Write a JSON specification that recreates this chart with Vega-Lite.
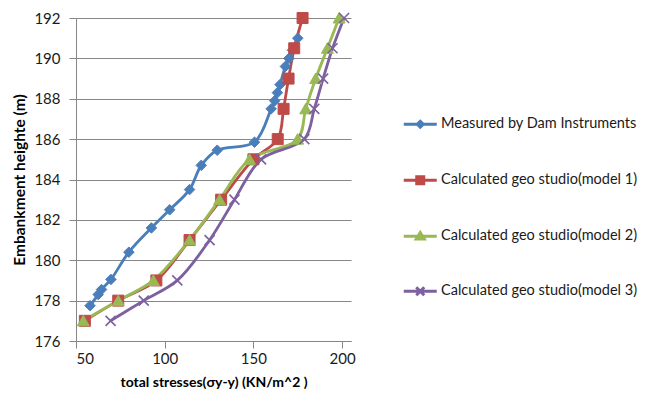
{
  "$schema": "https://vega.github.io/schema/vega-lite/v6.json",
  "width": 275,
  "height": 323,
  "padding": {"left": 76, "top": 18, "right": 297, "bottom": 62},
  "autosize": "none",
  "background": "white",
  "config": {
    "view": {"stroke": null},
    "font": "Lato",
    "axis": {
      "labelFont": "Lato",
      "labelFontSize": 15,
      "labelColor": "#1a1a1a",
      "titleFont": "Lato",
      "titleFontSize": 14,
      "titleFontWeight": "bold",
      "titleColor": "#000000",
      "domainColor": "#868686",
      "tickColor": "#868686",
      "gridColor": "#878787",
      "gridWidth": 1,
      "tickSize": 7
    },
    "legend": {"labelFont": "Lato", "labelFontSize": 14.5, "labelColor": "#1a1a1a", "labelLimit": 400, "symbolOpacity": 1, "symbolStrokeWidth": 3}
  },
  "data": {
    "values": [
      {"series": "Measured by Dam Instruments", "stress": 57.9, "height": 177.75},
      {"series": "Measured by Dam Instruments", "stress": 62.5, "height": 178.3},
      {"series": "Measured by Dam Instruments", "stress": 64.4, "height": 178.55},
      {"series": "Measured by Dam Instruments", "stress": 69.7, "height": 179.05},
      {"series": "Measured by Dam Instruments", "stress": 79.8, "height": 180.4},
      {"series": "Measured by Dam Instruments", "stress": 92.5, "height": 181.6},
      {"series": "Measured by Dam Instruments", "stress": 102.8, "height": 182.5},
      {"series": "Measured by Dam Instruments", "stress": 114, "height": 183.5},
      {"series": "Measured by Dam Instruments", "stress": 120.6, "height": 184.7},
      {"series": "Measured by Dam Instruments", "stress": 129.6, "height": 185.45},
      {"series": "Measured by Dam Instruments", "stress": 150.6, "height": 185.85},
      {"series": "Measured by Dam Instruments", "stress": 160, "height": 187.5},
      {"series": "Measured by Dam Instruments", "stress": 162, "height": 187.9},
      {"series": "Measured by Dam Instruments", "stress": 163.5, "height": 188.3},
      {"series": "Measured by Dam Instruments", "stress": 165, "height": 188.7},
      {"series": "Measured by Dam Instruments", "stress": 168, "height": 189.6},
      {"series": "Measured by Dam Instruments", "stress": 170, "height": 190.0},
      {"series": "Measured by Dam Instruments", "stress": 172, "height": 190.4},
      {"series": "Measured by Dam Instruments", "stress": 175, "height": 191.0},
      {"series": "Calculated geo studio(model 1)", "stress": 55, "height": 177},
      {"series": "Calculated geo studio(model 1)", "stress": 73.8, "height": 178},
      {"series": "Calculated geo studio(model 1)", "stress": 95.3, "height": 179},
      {"series": "Calculated geo studio(model 1)", "stress": 114, "height": 181},
      {"series": "Calculated geo studio(model 1)", "stress": 131.8, "height": 183},
      {"series": "Calculated geo studio(model 1)", "stress": 150, "height": 185},
      {"series": "Calculated geo studio(model 1)", "stress": 163.7, "height": 186},
      {"series": "Calculated geo studio(model 1)", "stress": 167, "height": 187.5},
      {"series": "Calculated geo studio(model 1)", "stress": 169.8, "height": 189},
      {"series": "Calculated geo studio(model 1)", "stress": 173, "height": 190.5},
      {"series": "Calculated geo studio(model 1)", "stress": 177.7, "height": 192},
      {"series": "Calculated geo studio(model 2)", "stress": 54.1, "height": 177},
      {"series": "Calculated geo studio(model 2)", "stress": 73.8, "height": 178},
      {"series": "Calculated geo studio(model 2)", "stress": 93.6, "height": 179},
      {"series": "Calculated geo studio(model 2)", "stress": 114, "height": 181},
      {"series": "Calculated geo studio(model 2)", "stress": 130.9, "height": 183},
      {"series": "Calculated geo studio(model 2)", "stress": 147.8, "height": 185},
      {"series": "Calculated geo studio(model 2)", "stress": 174.9, "height": 186},
      {"series": "Calculated geo studio(model 2)", "stress": 179.5, "height": 187.5},
      {"series": "Calculated geo studio(model 2)", "stress": 185.1, "height": 189},
      {"series": "Calculated geo studio(model 2)", "stress": 191.7, "height": 190.5},
      {"series": "Calculated geo studio(model 2)", "stress": 198.3, "height": 192},
      {"series": "Calculated geo studio(model 3)", "stress": 69.5, "height": 177},
      {"series": "Calculated geo studio(model 3)", "stress": 88.2, "height": 178},
      {"series": "Calculated geo studio(model 3)", "stress": 107.1, "height": 179},
      {"series": "Calculated geo studio(model 3)", "stress": 125.3, "height": 181},
      {"series": "Calculated geo studio(model 3)", "stress": 139.3, "height": 183},
      {"series": "Calculated geo studio(model 3)", "stress": 154.3, "height": 185},
      {"series": "Calculated geo studio(model 3)", "stress": 178.7, "height": 186},
      {"series": "Calculated geo studio(model 3)", "stress": 184.3, "height": 187.5},
      {"series": "Calculated geo studio(model 3)", "stress": 189.3, "height": 189},
      {"series": "Calculated geo studio(model 3)", "stress": 194.6, "height": 190.5},
      {"series": "Calculated geo studio(model 3)", "stress": 201.1, "height": 192}
    ]
  },
  "encoding": {
    "x": {
      "field": "stress", "type": "quantitative",
      "scale": {"domain": [50, 205], "nice": false, "zero": false},
      "axis": {"values": [50, 100, 150, 200], "grid": false, "title": "total stresses(σy-y) (KN/m^2 )", "labelPadding": 3, "titlePadding": 9}
    },
    "y": {
      "field": "height", "type": "quantitative",
      "scale": {"domain": [176, 192], "nice": false, "zero": false},
      "axis": {"values": [176, 178, 180, 182, 184, 186, 188, 190, 192], "grid": true, "title": "Embankment heighte (m)", "titleFontSize": 15.5, "labelPadding": 9, "titlePadding": 6}
    },
    "color": {
      "field": "series", "type": "nominal",
      "scale": {
        "domain": ["Measured by Dam Instruments", "Calculated geo studio(model 1)", "Calculated geo studio(model 2)", "Calculated geo studio(model 3)"],
        "range": ["#4A7EBB", "#BE4B48", "#98B954", "#7D60A0"]
      },
      "legend": {
        "title": null,
        "orient": "none",
        "legendX": 337,
        "legendY": 99,
        "rowPadding": 36,
        "symbolSize": 100,
        "labelOffset": 13.5
      }
    }
  },
  "layer": [
    {
      "mark": {"type": "line", "interpolate": "catmull-rom", "strokeWidth": 2.85},
      "encoding": {
        "order": {"field": "height", "type": "quantitative"}
      }
    },
    {
      "transform": [{"filter": "datum.series === 'Measured by Dam Instruments'"}],
      "mark": {"type": "point", "filled": true, "opacity": 1, "size": 100, "shape": "M0,-1.05L1.05,0L0,1.05L-1.05,0Z", "stroke": "#4A7EBB", "strokeWidth": 1}
    },
    {
      "transform": [{"filter": "datum.series === 'Calculated geo studio(model 1)'"}],
      "mark": {"type": "point", "filled": true, "opacity": 1, "size": 100, "shape": "M-1.1,-1.1H1.1V1.1H-1.1Z", "stroke": "#BE4B48", "strokeWidth": 1}
    },
    {
      "transform": [{"filter": "datum.series === 'Calculated geo studio(model 2)'"}],
      "mark": {"type": "point", "filled": true, "opacity": 1, "size": 100, "shape": "M0,-1.1L1.2,1L-1.2,1Z", "stroke": "#98B954", "strokeWidth": 1}
    },
    {
      "transform": [{"filter": "datum.series === 'Calculated geo studio(model 3)'"}],
      "mark": {"type": "point", "filled": true, "opacity": 1, "size": 100, "shape": "M-1,-1L1,1M1,-1L-1,1", "stroke": "#7D60A0", "strokeWidth": 1.6}
    },
    {
      "mark": {"type": "point", "filled": true, "opacity": 0, "size": 100},
      "encoding": {
        "shape": {
          "field": "series", "type": "nominal",
          "scale": {
            "domain": ["Measured by Dam Instruments", "Calculated geo studio(model 1)", "Calculated geo studio(model 2)", "Calculated geo studio(model 3)"],
            "range": ["M-3.3,0H3.3M0,-0.6L0.6,0L0,0.6L-0.6,0Z", "M-3.3,0H3.3M-0.7,-0.7H0.7V0.7H-0.7Z", "M-3.3,0H3.3M0,-0.75L0.8,0.55L-0.8,0.55Z", "M-3.3,0H3.3M-0.8,-0.8L0.8,0.8M0.8,-0.8L-0.8,0.8"]
          },
          "legend": {"title": null}
        }
      }
    }
  ]
}
